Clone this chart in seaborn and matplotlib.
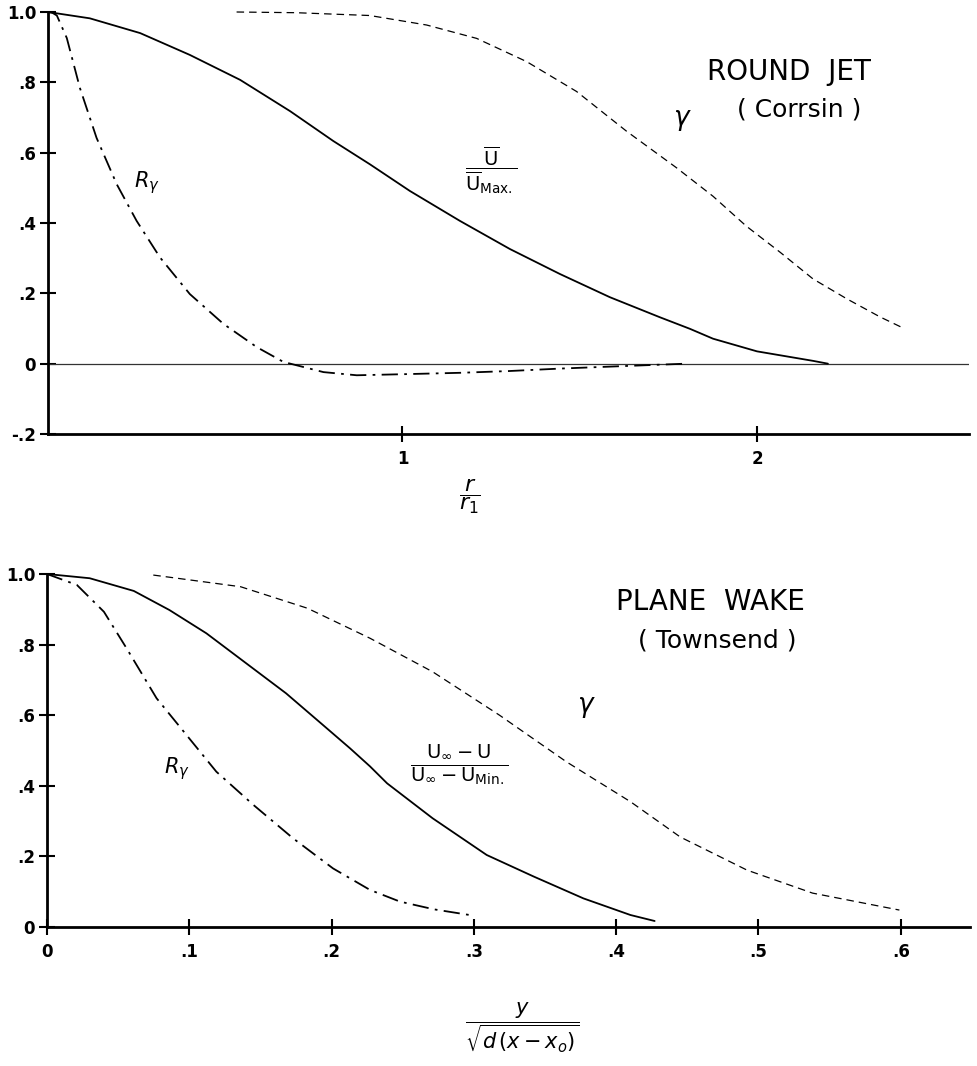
import numpy as np
import pandas as pd
import matplotlib
matplotlib.use("Agg")
import matplotlib.pyplot as plt
import seaborn as sns

# ---------------- data ----------------
# Round jet (Corrsin)
jet_u_x = [0.0, 0.118, 0.26, 0.40, 0.542, 0.683, 0.805, 0.908, 1.021, 1.162, 1.303, 1.444,
           1.585, 1.726, 1.811, 1.876, 2.0, 2.158, 2.2]
jet_u_y = [1.0, 0.982, 0.94, 0.878, 0.807, 0.718, 0.633, 0.567, 0.491, 0.406, 0.326, 0.255,
           0.189, 0.132, 0.099, 0.071, 0.035, 0.008, 0.0]

jet_g_x = [0.532, 0.70, 0.908, 1.068, 1.209, 1.35, 1.491, 1.632, 1.773, 1.876, 1.97, 2.065,
           2.158, 2.254, 2.347, 2.417]
jet_g_y = [1.0, 0.998, 0.99, 0.963, 0.925, 0.859, 0.774, 0.661, 0.557, 0.476, 0.391, 0.317,
           0.241, 0.184, 0.133, 0.099]

jet_r_x = [0.0, 0.012, 0.025, 0.053, 0.09, 0.137, 0.194, 0.25, 0.316, 0.40, 0.495, 0.589,
           0.664, 0.777, 0.871, 1.0, 1.162, 1.30, 1.444, 1.62, 1.80]
jet_r_y = [1.0, 0.998, 0.99, 0.926, 0.784, 0.642, 0.51, 0.406, 0.302, 0.198, 0.113, 0.047,
           0.005, -0.024, -0.033, -0.030, -0.026, -0.021, -0.014, -0.007, 0.0]

jet_yticks = [-0.2, 0.0, 0.2, 0.4, 0.6, 0.8, 1.0]
jet_ylabels = ["-.2", "0", ".2", ".4", ".6", ".8", "1.0"]
jet_xticks = [1, 2]
jet_xlabels = ["1", "2"]

# Plane wake (Townsend)
wake_u_x = [0.0, 0.030, 0.061, 0.086, 0.112, 0.140, 0.168, 0.194, 0.213, 0.227, 0.239,
            0.271, 0.309, 0.342, 0.377, 0.41, 0.427]
wake_u_y = [1.0, 0.988, 0.952, 0.898, 0.832, 0.747, 0.662, 0.572, 0.506, 0.455, 0.407,
            0.308, 0.204, 0.143, 0.081, 0.034, 0.017]

wake_g_x = [0.0747, 0.136, 0.183, 0.227, 0.271, 0.318, 0.365, 0.41, 0.445, 0.492, 0.538, 0.599]
wake_g_y = [0.997, 0.964, 0.903, 0.818, 0.723, 0.60, 0.468, 0.355, 0.255, 0.161, 0.096, 0.048]

wake_r_x = [0.0, 0.021, 0.040, 0.056, 0.077, 0.098, 0.119, 0.145, 0.173, 0.201, 0.227,
            0.248, 0.272, 0.297]
wake_r_y = [1.0, 0.969, 0.893, 0.789, 0.648, 0.544, 0.44, 0.346, 0.251, 0.166, 0.105,
            0.072, 0.050, 0.034]

wake_yticks = [0.0, 0.2, 0.4, 0.6, 0.8, 1.0]
wake_ylabels = ["0", ".2", ".4", ".6", ".8", "1.0"]
wake_xticks = [0.0, 0.1, 0.2, 0.3, 0.4, 0.5, 0.6]
wake_xlabels = ["0", ".1", ".2", ".3", ".4", ".5", ".6"]

# ---------------- style ----------------
sns.set_style("ticks")
plt.rcParams["font.family"] = ["DejaVu Sans"]
plt.rcParams["mathtext.fontset"] = "dejavusans"
plt.rcParams["text.color"] = "black"
plt.rcParams["xtick.color"] = "black"
plt.rcParams["ytick.color"] = "black"

W, H = 978, 1066
fig = plt.figure(figsize=(W / 100, H / 100), dpi=100)

ax1 = fig.add_axes([48 / W, 632 / H, 921 / W, 422 / H])
ax2 = fig.add_axes([47 / W, 139 / H, 923 / W, 353 / H])

DASHDOT = (0, (9, 3.5, 1.5, 3.5))
GDASH = (0, (6, 4))

def draw(ax, ux, uy, gx, gy, rx, ry):
    sns.lineplot(x=ux, y=uy, ax=ax, color="black", linewidth=1.3,
                 estimator=None, sort=False)
    sns.lineplot(x=gx, y=gy, ax=ax, color="black", linewidth=0.9,
                 estimator=None, sort=False, linestyle=GDASH)
    sns.lineplot(x=rx, y=ry, ax=ax, color="black", linewidth=1.3,
                 estimator=None, sort=False, linestyle=DASHDOT)
    for ln in ax.lines:
        ln.set_clip_on(False)
        ln.set_solid_joinstyle("round")
        ln.set_dash_joinstyle("round")

draw(ax1, jet_u_x, jet_u_y, jet_g_x, jet_g_y, jet_r_x, jet_r_y)
draw(ax2, wake_u_x, wake_u_y, wake_g_x, wake_g_y, wake_r_x, wake_r_y)

ax1.axhline(0, color="#333333", linewidth=0.9, zorder=1)

ax1.set_xlim(0, 921 / 354.5)
ax1.set_ylim(-0.2, 1.0)
ax2.set_xlim(0, 923 / 1423)
ax2.set_ylim(0, 1.0)

for ax, xt, xl, yt, yl in [(ax1, jet_xticks, jet_xlabels, jet_yticks, jet_ylabels),
                           (ax2, wake_xticks, wake_xlabels, wake_yticks, wake_ylabels)]:
    ax.set_xticks(xt)
    ax.set_xticklabels(xl)
    ax.set_yticks(yt)
    ax.set_yticklabels(yl)
    for s in ["top", "right"]:
        ax.spines[s].set_visible(False)
    for s in ["left", "bottom"]:
        ax.spines[s].set_linewidth(2.0)
        ax.spines[s].set_color("black")
    ax.tick_params(direction="inout", length=11, width=1.5, color="black",
                   labelcolor="black", labelsize=12, pad=3)
    for t in ax.get_xticklabels() + ax.get_yticklabels():
        t.set_fontweight("bold")
    ax.set_facecolor("white")

ax1.tick_params(axis="x", pad=6)
ax2.tick_params(axis="x", pad=6)

# ---------------- annotations ----------------
ax1.text(0.28, 0.516, r"$R_\gamma$", fontsize=15, ha="center", va="center")
ax1.text(1.25, 0.55, r"$\dfrac{\overline{\mathrm{U}}}{\overline{\mathrm{U}}_{\mathrm{Max.}}}$",
         fontsize=14, ha="center", va="center")
ax1.text(2.09, 0.83, "ROUND  JET", fontsize=20, ha="center", va="center")
ax1.text(2.12, 0.722, "( Corrsin )", fontsize=18, ha="center", va="center")
ax1.text(1.79, 0.694, r"$\gamma$", fontsize=19, ha="center", va="center")

ax2.text(0.091, 0.45, r"$R_\gamma$", fontsize=15, ha="center", va="center")
ax2.text(0.29, 0.46, r"$\dfrac{\mathrm{U}_\infty - \mathrm{U}}{\mathrm{U}_\infty - \mathrm{U}_{\mathrm{Min.}}}$",
         fontsize=14, ha="center", va="center")
ax2.text(0.466, 0.921, "PLANE  WAKE", fontsize=20, ha="center", va="center")
ax2.text(0.471, 0.813, "( Townsend )", fontsize=18, ha="center", va="center")
ax2.text(0.379, 0.623, r"$\gamma$", fontsize=19, ha="center", va="center")

fig.text(470 / W, 1 - 497 / H, r"$\dfrac{r}{r_1}$", fontsize=16, ha="center", va="center")
fig.text(522 / W, 1 - 1028 / H, r"$\dfrac{y}{\sqrt{d\,(x-x_o)}}$", fontsize=15,
         ha="center", va="center")

fig.savefig("out.png", dpi=100, facecolor="white")
